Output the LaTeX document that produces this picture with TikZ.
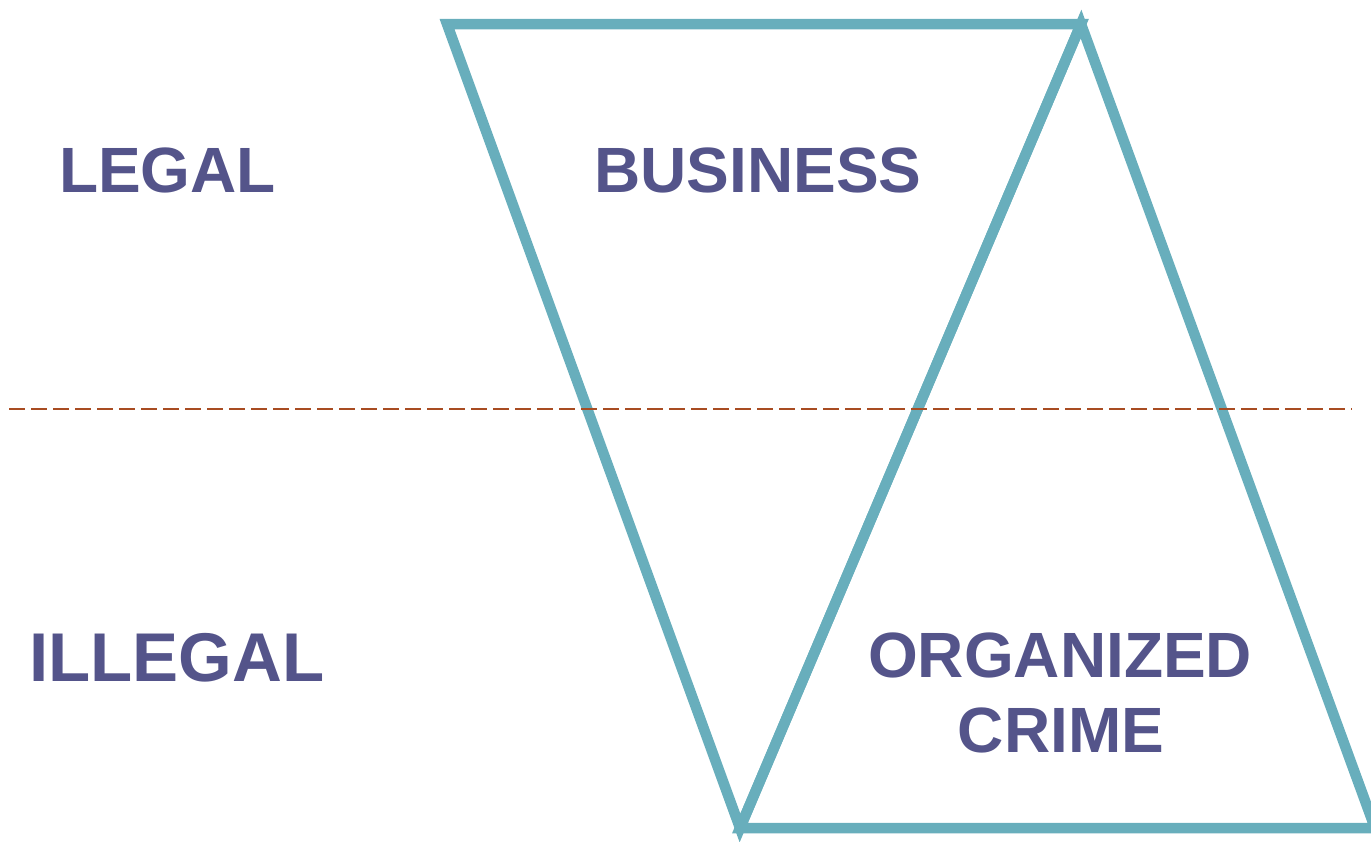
\documentclass[tikz,border=0pt]{standalone}
\usepackage{fontspec}
\setmainfont{Liberation Sans}
\definecolor{teal}{RGB}{104,174,188}
\definecolor{txt}{RGB}{84,84,138}
\definecolor{rust}{RGB}{168,76,34}
\begin{document}
\begin{tikzpicture}[x=1pt,y=-1pt,
  tri/.style={draw=teal,line width=10.5pt,line join=miter},
  lbl/.style={inner sep=0pt,text=txt,font=\bfseries\fontsize{64}{74}\selectfont},
  divider/.style={draw=rust,line width=2pt,dash pattern=on 16pt off 6pt}]
\useasboundingbox (0,0) rectangle (1371,841);
\coordinate (tl) at (447,24);
\coordinate (tr) at (1081,24);
\coordinate (bl) at (740,828);
\coordinate (br) at (1375,828);
\coordinate (dl) at (9,409);
\coordinate (dr) at (1352,409);
\draw[tri] (tl) -- (tr) -- (bl) -- cycle;
\draw[tri] (tr) -- (br) -- (bl) -- cycle;
\draw[divider] (dl) -- (dr);
\node[lbl,anchor=base west] (legal) at (59,192) {LEGAL};
\node[lbl,anchor=base west,font=\bfseries\fontsize{69}{79}\selectfont] (illegal) at (29,681) {ILLEGAL};
\node[lbl,anchor=base] (business) at (758,192) {BUSINESS};
\node[lbl,anchor=base] (org) at (1060,677) {ORGANIZED};
\node[lbl,anchor=base] (crime) at (1061,752) {CRIME};
\end{tikzpicture}
\end{document}
